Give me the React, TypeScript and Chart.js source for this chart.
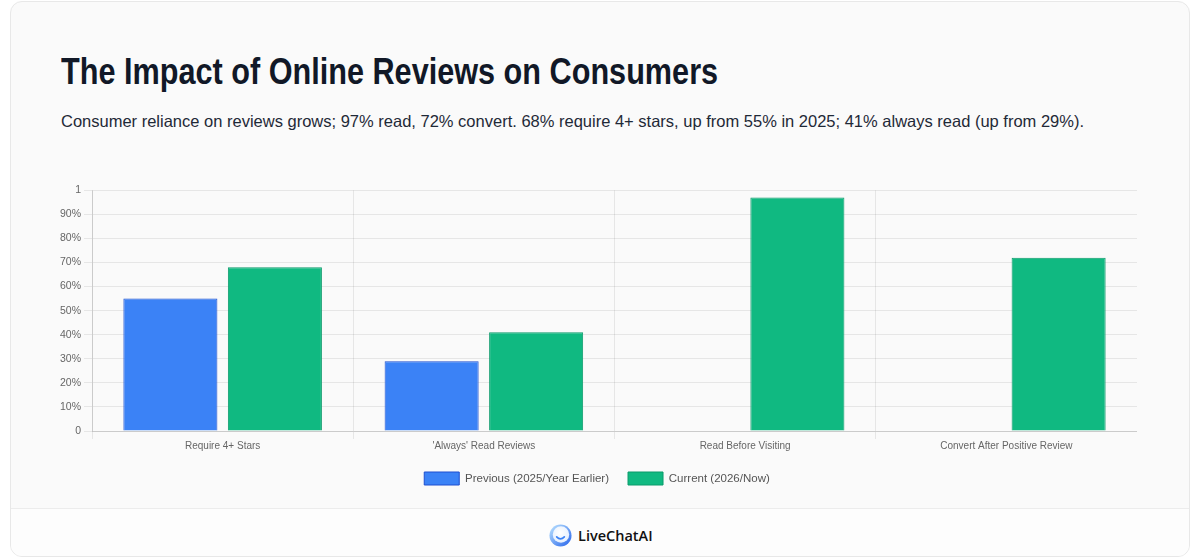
import React, { useEffect, useRef } from "react";
import { Chart, registerables } from "chart.js";

Chart.register(...registerables);

const categories = [
  "Require 4+ Stars",
  "'Always' Read Reviews",
  "Read Before Visiting",
  "Convert After Positive Review",
];
const previousValues: (number | null)[] = [0.55, 0.29, null, null];
const currentValues = [0.68, 0.41, 0.97, 0.72];
const seriesLabels = ["Previous (2025/Year Earlier)", "Current (2026/Now)"];

const TITLE = "The Impact of Online Reviews on Consumers";
const SUBTITLE =
  "Consumer reliance on reviews grows; 97% read, 72% convert. 68% require 4+ stars, up from 55% in 2025; 41% always read (up from 29%).";

function ChartBox() {
  const ref = useRef<HTMLCanvasElement | null>(null);
  useEffect(() => {
    if (!ref.current) return;
    const chart = new Chart(ref.current, {
      type: "bar",
      data: {
        labels: categories,
        datasets: [
          {
            label: seriesLabels[0],
            data: previousValues,
            backgroundColor: "#3b82f6",
            borderColor: "#1e4fd0",
            borderWidth: 1,
          },
          {
            label: seriesLabels[1],
            data: currentValues,
            backgroundColor: "#10b981",
            borderColor: "#0a9a6a",
            borderWidth: 1,
          },
        ],
      },
      options: {
        animation: false,
        responsive: true,
        maintainAspectRatio: false,
        plugins: {
          legend: {
            position: "bottom",
            labels: {
              boxWidth: 35,
              boxHeight: 13,
              color: "#555",
              font: { size: 11.5, family: "'Liberation Sans', Arial, sans-serif" },
              padding: 19,
            },
          },
          tooltip: { enabled: false },
        },
        scales: {
          x: {
            ticks: { color: "#666", padding: 1, font: { size: 10, family: "'Liberation Sans', Arial, sans-serif" } },
            grid: { color: "rgba(0,0,0,0.08)" },
            border: { color: "rgba(0,0,0,0.12)" },
          },
          y: {
            min: 0,
            max: 1,
            ticks: {
              stepSize: 0.1,
              color: "#666",
              font: { size: 10.5, family: "'Liberation Sans', Arial, sans-serif" },
              callback: (v: any) => {
                const n = Number(v);
                if (n === 0 || n === 1) return String(n);
                return Math.round(n * 100) + "%";
              },
            },
            grid: { color: "rgba(0,0,0,0.08)" },
            border: { color: "rgba(0,0,0,0.12)" },
          },
        },
      },
    });
    return () => chart.destroy();
  }, []);
  return <canvas ref={ref} />;
}

function Logo() {
  return (
    <svg width="23" height="23" viewBox="0 0 24 24">
      <defs>
        <linearGradient id="lg" x1="0" y1="0" x2="1" y2="1">
          <stop offset="0%" stopColor="#bfe6ff" />
          <stop offset="100%" stopColor="#2563eb" />
        </linearGradient>
        <radialGradient id="rg" cx="0.45" cy="0.4" r="0.6">
          <stop offset="0%" stopColor="#ffffff" />
          <stop offset="100%" stopColor="#e6f0ff" />
        </radialGradient>
      </defs>
      <circle cx="12" cy="12" r="11.5" fill="url(#lg)" />
      <circle cx="12.5" cy="11" r="8.6" fill="url(#rg)" />
      <path d="M8 13.5 Q12 17.5 16 13.5" stroke="#3b82f6" strokeWidth="1.8" fill="none" strokeLinecap="round" />
    </svg>
  );
}

export default function App() {
  useEffect(() => {
    document.body.style.margin = "0";
  }, []);
  return (
    <div style={{ position: "relative", width: 1200, height: 559, background: "#fff", overflow: "hidden" }}>
      <div
        style={{
          position: "absolute",
          left: 10,
          top: 1,
          width: 1180,
          height: 556,
          boxSizing: "border-box",
          border: "1px solid #e8e8e8",
          borderRadius: 12,
          background: "#fafafa",
          overflow: "hidden",
        }}
      >
        <div
          style={{
            position: "absolute",
            left: 50,
            top: 48,
            fontFamily: "'Liberation Sans', Arial, sans-serif",
            fontWeight: 700,
            fontSize: 36,
            color: "#111827",
            whiteSpace: "nowrap",
            lineHeight: "44px",
            transform: "scaleX(0.851)",
            transformOrigin: "left center",
          }}
        >
          {TITLE}
        </div>
        <div
          style={{
            position: "absolute",
            left: 50,
            top: 108,
            fontFamily: "'Liberation Sans', Arial, sans-serif",
            fontSize: 16.5,
            color: "#1f2937",
            whiteSpace: "nowrap",
            lineHeight: "22px",
          }}
        >
          {SUBTITLE}
        </div>
        <div style={{ position: "absolute", left: 46, top: 179, width: 1080, height: 314 }}>
          <ChartBox />
        </div>
        <div
          style={{
            position: "absolute",
            left: 0,
            top: 506,
            width: "100%",
            height: 60,
            borderTop: "1px solid #ececec",
            background: "#fdfdfd",
          }}
        >
          <div
            style={{
              position: "absolute",
              left: 538,
              top: 15,
              display: "flex",
              alignItems: "center",
              gap: 6,
            }}
          >
            <Logo />
            <span
              style={{
                fontFamily: "'Open Sans', sans-serif",
                fontWeight: 600,
                fontSize: 14.5,
                color: "#111",
              }}
            >
              LiveChatAI
            </span>
          </div>
        </div>
      </div>
    </div>
  );
}
